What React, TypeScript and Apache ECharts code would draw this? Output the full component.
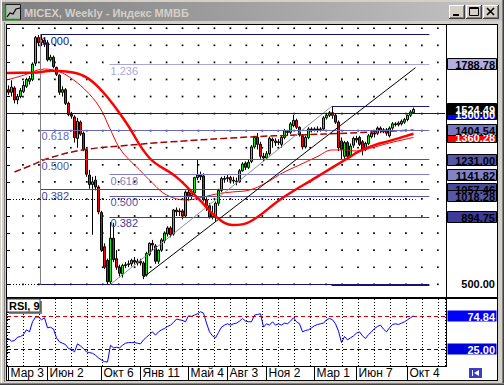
import React, { useEffect, useRef } from "react";
import * as echarts from "echarts";

const FONT = '"Liberation Sans", Arial, Helvetica, sans-serif';

// Weekly MICEX bars, index 0 = week of 3 Mar 2008
const barOpen = [1640,1625,1650,1580,1600,1630,1660,1690,1700,1795, 1945,1915,1930,1915,1815,1830,1770,1725,1625,1640, 1560,1495,1480,1355,1450,1385,1285,1140,1085,1110, 1070,920,720,640,515,770,650,600,560,610, 615,620,640,625,635,625,555,675,740,725, 635,700,755,795,830,795,935,925,930,900, 1040,1020,1035,1125,1140,1135,995,960,895,900, 975,1050,1115,1120,1125,1105,1105,1100,1165,1210, 1185,1220,1305,1360,1320,1250,1240,1265,1350,1340, 1330,1320,1360,1395,1390,1430,1460,1420,1370,1305, 1360,1410,1405,1410,1405,1410,1475,1490,1505,1490, 1450,1340,1250,1330,1255,1315,1355,1360,1335,1290, 1325,1365,1385,1385,1415,1400,1405,1370,1415,1440, 1435,1440,1450,1465,1490,1505];
const barClose = [1625,1655,1580,1600,1635,1665,1700,1705,1790,1945, 1915,1935,1910,1815,1830,1775,1730,1625,1640,1560, 1495,1485,1360,1455,1380,1290,1145,1085,1100,1070, 925,700,600,515,770,645,600,565,610,615, 620,640,630,635,625,550,680,740,730,635, 700,760,800,830,790,935,925,930,900,1040, 1020,1035,1125,1140,1130,995,960,895,910,975, 1050,1120,1120,1125,1110,1110,1100,1165,1205,1185, 1215,1305,1360,1320,1250,1240,1265,1355,1340,1330, 1335,1360,1400,1390,1440,1460,1420,1375,1305,1360, 1410,1405,1410,1405,1410,1475,1490,1505,1490,1450, 1300,1290,1330,1250,1310,1355,1345,1320,1290,1325, 1370,1385,1380,1415,1400,1405,1385,1415,1440,1435, 1445,1455,1465,1490,1510,1524.49];
const barLow = [1610,1600,1560,1555,1590,1620,1650,1670,1690,1780, 1900,1895,1890,1805,1805,1765,1720,1610,1600,1550, 1485,1470,1330,1300,1370,1280,1130,1060,790,1050, 910,690,590,498.5,500,630,585,545,540,595, 600,605,615,610,610,530,545,665,700,620, 620,690,740,780,775,785,900,900,880,890, 990,1000,1025,1110,1110,985,930,885,880,865, 960,1040,1095,1100,1090,1090,1080,1095,1160,1170, 1175,1210,1295,1290,1235,1220,1230,1255,1300,1310, 1315,1300,1350,1370,1380,1420,1410,1365,1290,1295, 1350,1390,1395,1390,1395,1400,1465,1480,1470,1440, 1280,1228,1235,1240,1245,1300,1330,1310,1255,1280, 1315,1355,1360,1375,1385,1385,1370,1360,1405,1425, 1425,1430,1440,1455,1480,1500];
const barHigh = [1665,1695,1660,1615,1650,1690,1710,1720,1800,1955, 1960,1963,1945,1930,1845,1840,1775,1730,1660,1650, 1570,1510,1490,1475,1460,1395,1290,1170,1130,1135, 1080,930,740,650,865,860,700,615,620,630, 640,650,660,650,650,635,690,745,760,735, 705,770,810,840,840,940,950,945,940,1050, 1060,1050,1130,1228,1160,1150,1010,975,960,985, 1060,1130,1135,1140,1135,1130,1125,1175,1215,1220, 1230,1315,1370,1386,1335,1270,1280,1365,1360,1355, 1350,1370,1410,1405,1450,1492,1470,1425,1380,1370, 1420,1420,1420,1425,1420,1485,1500,1515,1541,1500, 1460,1360,1340,1340,1325,1365,1370,1370,1345,1335, 1380,1395,1395,1425,1425,1415,1415,1425,1450,1450, 1455,1465,1475,1495,1520,1535];

const rsi9 = [41,37,38,43,44,47,54,51,66,73, 73,69,72,57,58,55,42,36,34,32, 26,25,21,33,30,26,21,20,19,16, 12,9,6.5,6,31,27,28,27,31,34, 35,35,35,34,33,39,43,47,51,46, 51,54,56,59,61,65,70,69,68,66, 75,74,76,78,81,79,64,51,45,42, 50,58,61,63,61,63,64,67,71,67, 66,66,76,77,78,58,63,61,66,61, 63,61,64,63,67,72,66,63,51,53, 54,57,60,62,63,64,69,71,69,63, 52,35,44,39,42,45,49,51,45,41, 47,51,56,59,61,55,51,57,62,63, 62,64,66,69,72,74.84];

const dateTickIdx = [0, 13, 31, 44, 60, 73, 86, 102, 116, 133];
const dateTickText = ["Мар 3", "Июн 2", "Окт 6", "Янв 11", "Май 4", "Авг 3", "Ноя 2", "Мар 1", "Июн 7", "Окт 4"];

const priceGridLevels = [500, 600, 700, 800, 900, 1000, 1100, 1200, 1300, 1400, 1500, 1600, 1700, 1800, 1900, 2000];
// grid-dot columns, in units of the vertical grid step
const gridColumns = [1, 2, 3, 4, 5, 6, 7, 8, 9, 10, 11, 12, 13, 14, 15, 16, 17, 18, 19, 20, 21, 22, 23, 24, 25, 26, 27];

// moving averages (bar index, value)
const maSlowIdx = [-0.5, 3.7, 8, 14.7, 22.7, 28, 33.7, 39.3, 47, 56, 63.7, 69.3, 74.7, 80.3, 91.3, 102.7, 108, 113.7, 117, 122, 127, 135];
const maSlowVal = [1738, 1740, 1740, 1751, 1736, 1687, 1580, 1445, 1240, 1128, 994, 894, 847, 865, 1006, 1128, 1185, 1245, 1280, 1315, 1340, 1382];
const maFastIdx = [-0.5, 5.3, 12, 17, 20.3, 25.3, 30.3, 33.7, 37, 40.3, 43.7, 48, 52.7, 59.3, 63.7, 69.3, 74.7, 80.3, 85.7, 91.3, 97, 102.7, 108, 112, 116, 122, 127, 135];
const maFastVal = [1697, 1726, 1761, 1744, 1714, 1644, 1539, 1416, 1299, 1228, 1170, 1093, 1023, 994, 1006, 1029, 1041, 1052, 1093, 1152, 1199, 1246, 1287, 1287, 1281, 1304, 1328, 1360.28];
const maLongIdx = [2, 7, 13.7, 24.7, 37, 53.7, 80.3, 97, 113.7, 135];
const maLongVal = [1158, 1193, 1240, 1287, 1310, 1334, 1363, 1375, 1386, 1404];

// Fibonacci objects
const fibEndIdx = 140.3;
const fib1StartIdx = 10.67;
const fib1Text = ["1.000", "0.618", "0.500", "0.382", ""];
const fib1Price = [1963.5, 1404.54, 1231.0, 1057.46, 498.5];
const fib2StartIdx = 33.67;
const fib2HighIdx = 107.67;
const fib2Text = ["1.236", "1.000", "0.618", "0.500", "0.382", ""];
const fib2Price = [1788.78, 1541.7, 1141.82, 1018.28, 894.75, 494.8];
const trendStart = [44.77, 538.7];
const trendEnd = [135.67, 1768.9];
const blueLevel = 1500;
const dottedLevel = 1000;
const dottedEndIdx = 135.7;

const tagValues = [1788.78, 1500.0, 1524.49, 1360.28, 1404.54, 1231.0, 1141.82, 1057.46, 1018.28, 894.75];
const rsiLevels = [74.84, 25.0];

const fib1Colors = ["#141470", "#6868b4", "#5252a2", "#444498", "#141470"];
const fib2Colors = ["#a8a8d8", "#1c1c7c", "#7c7cc0", "#5858a6", "#3c3c94", "#141470"];
const tagFill = ["#b0b0e0", "#0000ff", "#000000", "#ff0000", "#7878c0", "#5656a6", "#8282c8", "#484898", "#5858a8", "#3c3c98"];
const tagInk = ["#000", "#fff", "#fff", "#fff", "#000", "#000", "#000", "#000", "#000", "#000"];

function seg(x1: number, x2: number, p: number, color: string, text: string, hide = false, dash: any = "solid") {
  return [
    {
      coord: [x1, p],
      lineStyle: { color, width: 1, type: dash, opacity: hide ? 0 : 1 },
      label: text
        ? { show: true, formatter: text, position: "insideStartBottom", color, fontSize: 11, fontFamily: FONT, distance: [1, 1] }
        : { show: false },
    },
    { coord: [x2, p] },
  ];
}

function buildOption() {
  const nSlots = 146;
  const cats = Array.from({ length: nSlots }, (_, i) => String(i));
  const bars = barOpen.map((o, i) => [o, barClose[i], barLow[i], barHigh[i]]);

  const objects: any[] = [];
  fib1Price.forEach((p, i) => objects.push(seg(fib1StartIdx, fibEndIdx, p, fib1Colors[i], fib1Text[i])));
  fib2Price.forEach((p, i) => {
    if (i === 1 || i === 5) {
      objects.push(seg(fib2StartIdx, fib2HighIdx, p, fib2Colors[i], fib2Text[i], true));
      objects.push(seg(fib2HighIdx, fibEndIdx, p, fib2Colors[i], ""));
    } else {
      objects.push(seg(fib2StartIdx, fibEndIdx, p, fib2Colors[i], fib2Text[i]));
    }
  });
  objects.push([{ coord: [fib1StartIdx, fib1Price[0]], lineStyle: { color: "#808080", width: 1, type: "solid" } }, { coord: [fib1StartIdx, fib1Price[4]] }]);
  objects.push([{ coord: [fib2StartIdx, fib2Price[5]], lineStyle: { color: "#909090", width: 1, type: "solid" } }, { coord: [fib2HighIdx, fib2Price[1]] }]);
  objects.push([{ coord: trendStart, lineStyle: { color: "#000", width: 1, type: "solid" } }, { coord: trendEnd }]);
  objects.push({ yAxis: blueLevel, lineStyle: { color: "#0000ff", width: 1, type: "solid" } });
  objects.push(seg(-0.5, dottedEndIdx, dottedLevel, "#000", "", false, [1, 2]));
  objects.push(seg(-0.5, fib1StartIdx, fib1Price[4], "#000", "", false, [1, 2]));

  const dots: number[][] = [];
  priceGridLevels.forEach((p) => gridColumns.forEach((c) => dots.push([c, p])));

  const yMain = { min: 425.6, max: 2019 };
  const tickCommon = { show: true, inside: true, lineStyle: { color: "#000", width: 1 } };
  const hidden = { axisLine: { show: false }, axisTick: { show: false }, axisLabel: { show: false }, splitLine: { show: false } };

  return {
    animation: false,
    backgroundColor: "#ffffff",
    grid: [
      { left: 7, top: 25, width: 438, height: 272 },
      { left: 7, top: 299, width: 438, height: 67 },
    ],
    xAxis: [
      { type: "category", gridIndex: 0, data: cats, show: false, boundaryGap: true },
      { type: "value", gridIndex: 0, min: -0.5, max: 145.5, show: false },
      {
        type: "category", gridIndex: 1, data: cats, boundaryGap: true, position: "bottom",
        axisLine: { show: false },
        axisTick: { show: true, alignWithLabel: true, length: 14, interval: (i: number) => dateTickIdx.includes(i), lineStyle: { color: "#000" } },
        axisLabel: {
          show: true, interval: (i: number) => dateTickIdx.includes(i),
          formatter: (_v: string, i: number) => dateTickText[dateTickIdx.indexOf(i)] ?? "",
          align: "left", margin: 1, color: "#000", fontSize: 12, fontFamily: FONT, padding: [0, 0, 0, 2],
        },
        splitLine: { show: false },
      },
      {
        type: "value", gridIndex: 1, min: 0, max: 27.45, interval: 1,
        axisLine: { show: false }, axisTick: { show: false }, axisLabel: { show: false },
        splitLine: { show: true, lineStyle: { color: "#000", width: 1, type: [1, 2] } },
      },
      { type: "value", gridIndex: 0, min: 0, max: 27.45, show: false, ...hidden },
    ],
    yAxis: [
      { type: "value", gridIndex: 0, ...yMain, position: "right", axisLine: { show: false }, axisLabel: { show: false }, splitLine: { show: false }, axisTick: { ...tickCommon, length: 4, customValues: priceGridLevels } },
      { type: "value", gridIndex: 0, ...yMain, position: "left", axisLine: { show: false }, axisLabel: { show: false }, splitLine: { show: false }, axisTick: { ...tickCommon, length: 3, customValues: priceGridLevels } },
      { type: "value", gridIndex: 1, min: 0, max: 100, interval: 10, position: "right", axisLine: { show: false }, axisLabel: { show: false }, splitLine: { show: false }, axisTick: { ...tickCommon, length: 3 } },
      { type: "value", gridIndex: 1, min: 0, max: 100, interval: 10, position: "left", axisLine: { show: false }, axisLabel: { show: false }, splitLine: { show: false }, axisTick: { ...tickCommon, length: 3 } },
    ],
    series: [
      {
        type: "scatter", xAxisIndex: 4, yAxisIndex: 0, data: dots, silent: true, z: 1,
        symbol: "rect", symbolSize: 1.7, itemStyle: { color: "#000", opacity: 1 },
      },
      {
        type: "line", xAxisIndex: 1, yAxisIndex: 0, data: [], silent: true, z: 2,
        markLine: { silent: true, symbol: ["none", "none"], label: { show: false }, data: objects },
      },
      {
        type: "candlestick", xAxisIndex: 0, yAxisIndex: 0, data: bars, barWidth: 3, z: 3, silent: true,
        itemStyle: { color: "#00ff00", color0: "#ff0000", borderColor: "#000", borderColor0: "#000", borderWidth: 1 },
      },
      {
        type: "line", xAxisIndex: 1, yAxisIndex: 0, z: 4, silent: true, showSymbol: false, smooth: 0.4,
        data: maLongIdx.map((x, i) => [x, maLongVal[i]]),
        lineStyle: { color: "#a80000", width: 1.5, type: [7, 3] },
      },
      {
        type: "line", xAxisIndex: 1, yAxisIndex: 0, z: 4, silent: true, showSymbol: false, smooth: 0.4,
        data: maFastIdx.map((x, i) => [x, maFastVal[i]]),
        lineStyle: { color: "#ff0000", width: 1 },
      },
      {
        type: "line", xAxisIndex: 1, yAxisIndex: 0, z: 5, silent: true, showSymbol: false, smooth: 0.4,
        data: maSlowIdx.map((x, i) => [x, maSlowVal[i]]),
        lineStyle: { color: "#ff0000", width: 2.5 },
      },
      {
        type: "line", xAxisIndex: 2, yAxisIndex: 2, z: 4, silent: true, showSymbol: false,
        data: rsi9, lineStyle: { color: "#0000ff", width: 1 },
        markLine: {
          silent: true, symbol: ["none", "none"], label: { show: false },
          data: [
            { yAxis: rsiLevels[0], lineStyle: { color: "#cc0000", width: 1, type: [4, 3] } },
            { yAxis: rsiLevels[1], lineStyle: { color: "#0000cc", width: 1, type: [4, 3] } },
          ],
        },
      },
    ],
  };
}

function buildGraphic(chart: any) {
  const py = (p: number) => chart.convertToPixel({ yAxisIndex: 0 }, p) as number;
  const ry = (v: number) => chart.convertToPixel({ yAxisIndex: 2 }, v) as number;
  const Z = 100;
  const R = (x: number, y: number, w: number, h: number, fill: any, stroke = "none", lw = 1) => ({
    type: "rect", z: Z, silent: true, shape: { x, y, width: w, height: h }, style: { fill, stroke, lineWidth: lw },
  });
  const L = (x1: number, y1: number, x2: number, y2: number, stroke: string, lw = 1) => ({
    type: "line", z: Z, silent: true, shape: { x1, y1, x2, y2 }, style: { stroke, lineWidth: lw },
  });
  const T = (x: number, y: number, text: string, font: string, fill: string, align = "left") => ({
    type: "text", z: Z + 1, silent: true, x, y,
    style: { text, font, fill, textAlign: align, textVerticalAlign: "middle", align, verticalAlign: "middle" },
  });
  const els: any[] = [];
  // window frame
  els.push(R(0, 0, 504, 24, "#d4d0c8"));
  els.push(R(0, 0, 6.5, 385, "#d4d0c8"));
  els.push(R(497.5, 0, 6.5, 385, "#d4d0c8"));
  els.push(R(0, 381, 504, 4, "#d4d0c8"));
  els.push(L(1.5, 0, 1.5, 385, "#ffffff"));
  els.push(L(4.5, 22, 4.5, 382, "#808080"));
  els.push(L(502.5, 0, 502.5, 385, "#808080"));
  els.push(L(503.5, 0, 503.5, 385, "#404040"));
  els.push(L(0, 383.5, 504, 383.5, "#808080"));
  els.push(L(0, 384.5, 504, 384.5, "#404040"));
  els.push(R(2, 2, 500, 19, new echarts.graphic.LinearGradient(0, 0, 1, 0, [
    { offset: 0, color: "#7f7f7f" }, { offset: 1, color: "#c4c4c4" },
  ])));
  // title icon
  els.push(R(5.5, 4.5, 15, 15, "#b8b8b8", "#1a1a1a"));
  els.push(L(5.5, 5, 5.5, 20, "#00a000", 1.5));
  els.push(L(5, 19.5, 20, 19.5, "#00a000", 1.5));
  els.push({ type: "polyline", z: Z, silent: true, shape: { points: [[7, 17], [10, 13], [13, 14], [16, 9], [20, 8]] }, style: { stroke: "#000", lineWidth: 1.2, fill: "none" } });
  els.push(T(24, 12.5, "MICEX, Weekly - Индекс ММВБ", `bold 11px ${FONT}`, "#d4d0c8"));
  // window buttons
  const btnX = [449, 466, 483];
  btnX.forEach((bx) => {
    els.push(R(bx, 5, 16, 14, "#d4d0c8"));
    els.push(L(bx, 5.5, bx + 16, 5.5, "#ffffff"));
    els.push(L(bx + 0.5, 5, bx + 0.5, 19, "#ffffff"));
    els.push(L(bx, 18.5, bx + 16, 18.5, "#404040"));
    els.push(L(bx + 15.5, 5, bx + 15.5, 19, "#404040"));
    els.push(L(bx + 1, 17.5, bx + 15, 17.5, "#808080"));
    els.push(L(bx + 14.5, 6, bx + 14.5, 18, "#808080"));
  });
  els.push(R(453, 14, 6, 2, "#000"));
  els.push(R(469.5, 7.5, 9, 8, "none", "#000"));
  els.push(L(469.5, 8.5, 478.5, 8.5, "#000"));
  els.push(L(487, 8, 494, 15, "#000", 1.6));
  els.push(L(494, 8, 487, 15, "#000", 1.6));
  // chart borders
  els.push(L(6, 24.5, 498, 24.5, "#000"));
  els.push(L(6.5, 24, 6.5, 381, "#000"));
  els.push(L(497.5, 24, 497.5, 381, "#000"));
  els.push(L(6, 380.5, 498, 380.5, "#000"));
  els.push(L(446.5, 25, 446.5, 366.5, "#000"));
  els.push(L(6, 298, 498, 298, "#000", 2));
  els.push(L(6, 366.5, 447, 366.5, "#000"));
  // price tags
  tagValues.forEach((v, i) => {
    const y = Math.round(py(v));
    els.push(R(447.5, y - 5.5, 49, 11, tagFill[i], "#000"));
    els.push(T(495, y + 0.5, v.toFixed(2), `bold 11px ${FONT}`, tagInk[i], "right"));
  });
  els.push(T(495, Math.round(py(500)), "500.00", `bold 11px ${FONT}`, "#000", "right"));
  // RSI tags
  const rsiFill = ["#0000ff", "#0000dd"];
  rsiLevels.forEach((v, i) => {
    const y = Math.round(ry(v));
    els.push(R(447.5, y - 5.5, 49, 11, rsiFill[i]));
    els.push(T(495, y + 0.5, v.toFixed(2), `bold 11px ${FONT}`, "#fff", "right"));
  });
  // RSI caption
  els.push(R(9, 301, 33, 13, "#808080"));
  els.push(R(7, 299, 33, 13, "#ffffff", "#404040"));
  els.push(T(9, 305.5, "RSI, 9", `bold 11px ${FONT}`, "#000"));
  // chart-shift button
  els.push(R(468.5, 367.5, 14, 11, "#3c3cc4", "#ffffff"));
  els.push(L(472.5, 370, 472.5, 376, "#ffffff"));
  els.push({ type: "polygon", z: Z, silent: true, shape: { points: [[474, 373], [479, 370], [479, 376]] }, style: { fill: "#ffffff" } });
  return els;
}

export default function App() {
  const ref = useRef<HTMLDivElement>(null);
  useEffect(() => {
    const chart = echarts.init(ref.current!, null, { renderer: "svg" });
    chart.setOption(buildOption() as any);
    chart.setOption({ graphic: buildGraphic(chart) } as any);
    return () => chart.dispose();
  }, []);
  return <div ref={ref} style={{ position: "fixed", left: 0, top: 0, width: 504, height: 385 }} />;
}
